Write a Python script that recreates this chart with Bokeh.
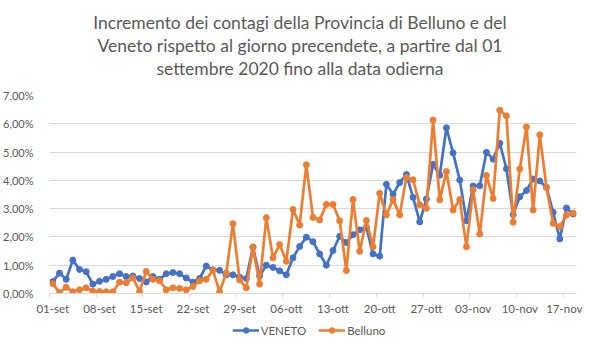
from bokeh.plotting import figure
from bokeh.layouts import column
from bokeh.models import (Range1d, FixedTicker, LinearAxis, Legend, LegendItem, Grid)
from bokeh.core.properties import value
from bokeh.embed import file_html
from bokeh.resources import INLINE

title_lines = [
    "Incremento dei contagi della Provincia di Belluno e del",
    "Veneto rispetto al giorno precendete, a partire dal 01",
    "settembre 2020 fino alla data odierna",
]

# tick labels (one every 7 days, starting 01-set)
tick_labels = ["01-set", "08-set", "15-set", "22-set", "29-set", "06-ott",
               "13-ott", "20-ott", "27-ott", "03-nov", "10-nov", "17-nov"]
y_tick_labels = ["0,00%", "1,00%", "2,00%", "3,00%", "4,00%", "5,00%", "6,00%", "7,00%"]
series_names = ["VENETO", "Belluno"]

# daily increment in percent, 01-set ... 18-nov
veneto = [0.42, 0.72, 0.50, 1.18, 0.85, 0.77, 0.33, 0.43, 0.50, 0.60,
          0.70, 0.60, 0.62, 0.53, 0.41, 0.60, 0.50, 0.70, 0.74, 0.70,
          0.55, 0.40, 0.53, 0.97, 0.84, 0.82, 0.66, 0.66, 0.58, 0.53,
          1.64, 0.62, 1.00, 0.92, 0.80, 0.66, 1.26, 1.66, 1.99, 1.83,
          1.40, 1.00, 1.52, 2.02, 1.80, 2.08, 2.25, 2.34, 1.40, 1.32,
          3.86, 3.51, 3.92, 4.21, 3.40, 2.53, 3.34, 4.57, 4.18, 5.86,
          4.97, 4.01, 2.57, 3.80, 3.81, 4.99, 4.75, 5.31, 4.41, 2.79,
          3.42, 3.64, 4.05, 3.98, 3.75, 2.87, 1.93, 3.02, 2.81]
belluno = [0.35, 0.03, 0.22, 0.06, 0.13, 0.20, 0.08, 0.07, 0.06, 0.06,
           0.40, 0.38, 0.55, 0.07, 0.78, 0.50, 0.45, 0.13, 0.20, 0.18,
           0.13, 0.25, 0.45, 0.50, 0.82, 0.06, 0.72, 2.47, 0.48, 0.20,
           1.62, 0.33, 2.68, 1.26, 1.73, 1.14, 2.97, 2.42, 4.55, 2.69,
           2.60, 3.15, 3.15, 2.57, 0.81, 3.32, 1.49, 2.58, 1.65, 3.54,
           2.78, 3.32, 2.78, 4.10, 4.02, 3.14, 3.01, 6.13, 3.31, 4.31,
           2.95, 3.32, 1.65, 3.67, 2.10, 4.17, 3.36, 6.48, 6.28, 2.52,
           4.40, 5.89, 2.95, 5.61, 3.75, 2.48, 2.37, 2.77, 2.84]

days = list(range(len(veneto)))
series = [veneto, belluno]

BLUE = "#4472C4"
ORANGE = "#ED7D31"
COLORS = [BLUE, ORANGE]
GRID = "#D9D9D9"
TEXT = "#595959"
FONT = "Lato"


def bare(fig):
    fig.outline_line_color = None
    fig.background_fill_color = "white"
    fig.border_fill_color = "white"
    fig.min_border_left = fig.min_border_right = 0
    fig.min_border_top = fig.min_border_bottom = 0


# ---- title block -------------------------------------------------------
TITLE_H = 87
TITLE_W = 574
pt = figure(width=TITLE_W, height=TITLE_H, output_backend="svg", toolbar_location=None,
            x_range=Range1d(0, TITLE_W), y_range=Range1d(0, TITLE_H),
            x_axis_type=None, y_axis_type=None)
bare(pt)
pt.xgrid.visible = False
pt.ygrid.visible = False
pt.text(x=[TITLE_W / 2 - 10] * 3, y=[TITLE_H - 22, TITLE_H - 45, TITLE_H - 68],
        text=title_lines, text_align="center", text_baseline="middle",
        text_font=value(FONT), text_font_size="17.5px", text_color=TEXT)

# ---- main chart ----------------------------------------------------------
TOP_B, FRAME_H, BOT_B = 8, 198, 22
p = figure(frame_width=527, frame_height=FRAME_H, output_backend="svg", toolbar_location=None,
           x_range=Range1d(-0.5, len(days) - 0.5), y_range=Range1d(0, 7),
           x_axis_type=None, y_axis_type=None)
bare(p)
p.min_border_left = 41
p.min_border_right = 6
p.min_border_top = TOP_B
p.min_border_bottom = BOT_B

yaxis = LinearAxis(ticker=FixedTicker(ticks=list(range(8))),
                   major_label_overrides={i: y_tick_labels[i] for i in range(8)},
                   axis_line_color=None, major_tick_line_color=None,
                   minor_tick_line_color=None, major_label_standoff=10,
                   major_label_text_font=FONT, major_label_text_font_size="11px",
                   major_label_text_color=TEXT)
p.add_layout(yaxis, "left")
p.add_layout(Grid(dimension=1, ticker=yaxis.ticker, grid_line_color=GRID))

bounds = [-0.5 + 7 * k for k in range(len(tick_labels))]
tick_axis = LinearAxis(ticker=FixedTicker(ticks=bounds),
                       major_label_overrides={b: "" for b in bounds},
                       major_label_text_font_size="1px", major_label_standoff=0,
                       major_tick_out=4, major_tick_in=0,
                       major_tick_line_color=GRID, axis_line_color=GRID,
                       minor_tick_line_color=None)
p.add_layout(tick_axis, "below")
label_axis = LinearAxis(ticker=FixedTicker(ticks=[7 * k for k in range(len(tick_labels))]),
                        major_label_overrides={7 * k: lab for k, lab in enumerate(tick_labels)},
                        axis_line_color=None, major_tick_line_color=None,
                        minor_tick_line_color=None, major_label_standoff=-2,
                        major_label_text_font=FONT, major_label_text_font_size="11.5px",
                        major_label_text_color=TEXT)
p.add_layout(label_axis, "below")

for ys, col in zip(series, COLORS):
    p.line(days, ys, line_color=col, line_width=2.7)
    p.scatter(days, ys, size=6, fill_color=col, line_color=col)

# ---- legend strip ---------------------------------------------------------
LEG_H = 20
pl = figure(width=574, height=LEG_H, output_backend="svg", toolbar_location=None,
            x_range=Range1d(-20, -10), y_range=Range1d(0, 1),
            x_axis_type=None, y_axis_type=None)
bare(pl)
pl.xgrid.visible = False
pl.ygrid.visible = False
items = []
for name, ys, col in zip(series_names, series, COLORS):
    lr = pl.line(days, ys, line_color=col, line_width=2.7)
    sr = pl.scatter(days, ys, size=6, fill_color=col, line_color=col)
    items.append(LegendItem(label=name, renderers=[lr, sr]))
legend = Legend(items=items, orientation="horizontal", location="bottom_center",
                border_line_color=None, background_fill_alpha=0,
                label_text_font=FONT, label_text_font_size="11.5px",
                label_text_color=TEXT, glyph_width=27, glyph_height=14,
                label_standoff=2, spacing=12, padding=2, margin=0)
pl.add_layout(legend, "center")

layout = column(pt, p, pl, spacing=0)
open("out.html", "w").write(file_html(layout, INLINE))
